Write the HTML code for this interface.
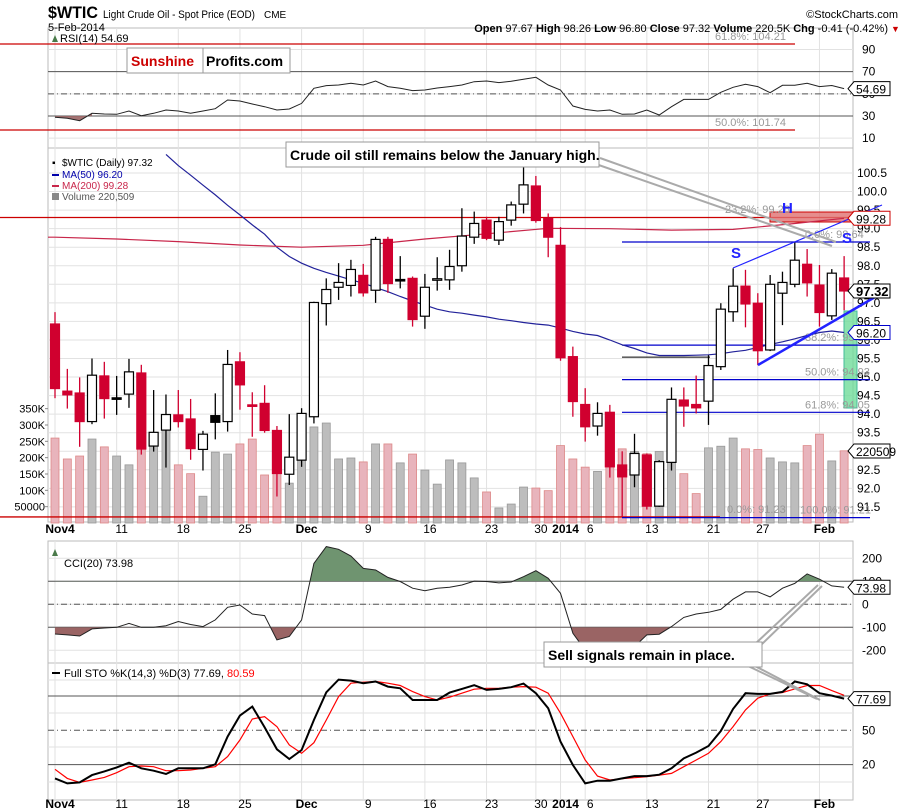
<!DOCTYPE html>
<html><head><meta charset="utf-8"><style>
body{margin:0;background:#fff;}
svg{display:block;font-family:"Liberation Sans",sans-serif;}
</style></head><body>
<svg id="c" width="900" height="811" viewBox="0 0 900 811" xmlns="http://www.w3.org/2000/svg">
<rect x="0" y="0" width="900" height="811" fill="#fff"/>
<g id="grid"></g><g id="layer"></g><g id="top"></g>
</svg>
<script>
// ---- data ----
const opens  = [96.43,94.62,94.57,93.80,95.03,94.44,94.54,95.11,93.14,93.57,93.98,93.87,93.05,93.96,93.80,95.41,94.25,94.29,93.56,92.38,92.76,93.93,96.98,97.42,97.47,97.74,97.34,98.71,97.63,97.66,96.64,97.65,97.62,98.00,98.77,99.23,98.69,99.23,99.66,100.15,99.28,98.55,95.55,94.26,93.68,94.05,92.63,92.36,92.90,91.52,92.70,94.38,94.26,94.35,95.28,96.76,97.45,96.99,95.73,97.26,97.50,98.04,97.48,96.65,97.67];
const highs  = [96.75,95.22,94.99,95.50,95.41,95.03,95.49,95.33,94.65,94.53,94.65,94.41,93.55,94.56,95.73,95.67,94.59,94.78,93.68,94.00,94.16,97.03,97.66,98.07,98.16,98.05,98.78,98.78,98.26,97.71,97.78,98.23,98.43,99.55,99.46,99.32,99.32,99.73,100.67,100.42,99.41,99.04,95.82,94.70,94.32,94.25,93.00,93.47,92.94,92.76,94.72,94.72,95.04,95.59,96.99,97.93,97.89,97.26,97.75,97.84,98.65,98.45,98.02,97.91,98.26];
const lows   = [94.43,94.15,93.12,93.73,93.88,93.98,94.17,92.91,92.99,92.56,93.64,92.77,92.48,93.32,93.53,94.12,93.39,93.50,91.78,92.09,92.58,93.75,96.39,97.08,97.17,97.17,97.00,97.27,97.39,96.36,96.30,97.33,97.35,97.84,98.59,98.69,98.56,99.08,99.41,99.16,98.23,95.44,93.93,93.26,93.42,92.29,91.23,92.03,91.43,91.50,92.48,93.66,94.02,93.71,95.19,96.49,96.34,95.32,95.70,96.40,97.42,97.17,96.36,96.54,96.80];
const closes = [94.69,94.52,93.80,95.05,94.42,94.42,95.14,93.06,93.51,93.99,93.80,93.07,93.46,93.78,95.34,94.79,94.21,93.56,92.40,92.84,94.02,97.01,97.36,97.55,97.90,97.27,98.71,97.52,97.62,96.55,97.42,97.65,97.98,98.80,99.14,98.74,99.19,99.64,100.18,99.22,98.77,95.52,94.34,93.66,94.02,92.58,92.31,92.94,91.52,92.72,94.40,94.22,94.17,95.31,96.83,97.45,96.97,95.71,97.50,97.55,98.15,97.54,96.74,97.80,97.32];
const volumesK = [260,196,205,257,233,205,178,228,263,291,178,151,82,217,211,242,257,147,153,122,214,294,306,196,199,187,242,242,184,211,162,119,193,184,138,95,46,58,110,107,99,237,196,171,158,227,227,219,212,219,237,151,90,230,235,260,227,225,199,187,184,237,272,190,221];
const ma50Start = 9;
const ma50 = [101.0,100.70,100.44,100.17,99.91,99.63,99.37,99.10,98.85,98.50,98.25,98.07,97.93,97.82,97.72,97.62,97.53,97.41,97.30,97.17,97.05,96.94,96.83,96.76,96.72,96.67,96.62,96.56,96.52,96.47,96.43,96.40,96.32,96.23,96.16,96.12,96.00,95.87,95.77,95.65,95.58,95.58,95.58,95.59,95.60,95.63,95.68,95.72,95.80,95.88,95.95,96.03,96.12,96.20,96.24,96.20];
const ma200Idx = [0,5,10,15,20,25,30,35,40,45,50,55,60,64];
const ma200 = [98.77,98.72,98.65,98.56,98.50,98.55,98.72,98.86,99.01,99.00,98.96,98.98,99.14,99.28];
const rsi = [28.8,27.9,25.8,32.4,31.8,31.5,34.5,30.3,32.4,35.4,34.5,32.4,34.5,36.6,44.4,43.5,40.8,38.4,35.4,36.3,41.4,55,57.4,58,59.5,58,61.6,56.5,55,52.9,53.5,55.3,56.5,58,61,61.6,60.1,61.3,63.1,64.9,58,53.5,39,36,34.5,35.4,31.5,31.8,35.4,30.9,38.4,45,45,45,51.4,55.9,58.6,56.5,51,57.7,57.7,59.5,56.5,57.5,54.69];
const cci = [-129,-133,-138,-107,-103,-100,-83,-100,-100,-93,-75,-88,-97,-68,-13,-3,-42,-49,-155,-140,-68,178,251,239,210,156,149,117,99,70,59,70,74,84,101,99,93,97,120,146,113,48,-126,-199,-242,-256,-271,-184,-133,-130,-97,-57,-42,-35,-22,22,54,54,32,70,91,132,109,80,73.98];
const stoK = [8,3.6,4.5,10.9,14.1,17.6,21.7,16.8,14.7,11.8,16.8,16.8,16.8,20.3,44.5,62.8,70.7,52.6,33.4,24.9,32.8,59,83.2,94.3,93.4,91.1,92.6,88.2,86.7,76.5,76.5,76.5,82.9,86.2,89.4,85.3,86.2,87.6,90.8,82.4,69.2,40.1,19.7,3.6,6,6,8,10,10,11.2,16.8,25.5,30.5,36.3,49.4,68.7,82.4,81.8,81.8,83.5,92.6,90.2,82.4,80.3,77.69];
const stoD = [15.9,8,4.5,6.6,8.9,13,18.2,18.8,18.2,14.7,14.7,15.3,16.8,18.2,27,41.5,59.9,62,53.2,37.2,29.9,39.2,59,79.4,91.1,92,92.6,91.1,89.1,83.8,79.4,76.5,78.9,82.4,85.9,86.7,86.7,87.6,88.2,87.6,82.4,64.9,44.5,24.1,10,6.6,7.7,8.6,9.5,10.9,12.4,18.2,24.1,29.9,40.1,53.2,67.8,78,81.8,83,86.2,89.1,89.1,84.7,80.59];
const dateLabels = ["Nov4","11","18","25","Dec","9","16","23","30","2014","6","13","21","27","Feb"];
const dateIdx = [0,5,10,15,20,25,30,35,39,41,43,48,53,57,62];
const priceTicks = [100.5,100,99.5,99,98.5,98,97.5,97,96.5,96,95.5,95,94.5,94,93.5,93,92.5,92,91.5];
const volTicks = [350,300,250,200,150,100,50];
const volTickLabels = ["350K","300K","250K","200K","150K","100K","50000"];
const rsiTicks = [90,70,50,30,10];
const cciTicks = [200,100,0,-100,-200];
const stoTicks = [80,50,20];
const fibLevels = [98.64,95.86,94.93,94.05,91.21];
const fibLabels = ["0.0%: 98.64","38.2%: 95.86","50.0%: 94.93","61.8%: 94.05","100.0%: 91.21"];

// ---- axes ----
const L=48,R=853;
const xi=i=>55+i*12.33;
const py=p=>173+(100.5-p)*37.1;
const vy=v=>523-v*0.3267;
const ry=v=>116-(v-30)*1.108;
const cy=v=>604.3-v*0.23;
const sy=v=>730.3-(v-50)*1.145;

const NS="http://www.w3.org/2000/svg";
const G=document.getElementById('grid'),Ly=document.getElementById('layer'),T=document.getElementById('top');
function mk(tag,attrs,parent){const e=document.createElementNS(NS,tag);for(const k in attrs)e.setAttribute(k,attrs[k]);(parent||Ly).appendChild(e);return e;}
function txt(s,x,y,attrs,parent){const e=mk('text',Object.assign({x:x,y:y,'font-size':11,fill:'#000'},attrs||{}),parent);e.textContent=s;return e;}

const panels=[[28,148,'rsi-panel'],[148,522,'price-panel'],[541,663,'cci-panel'],[663,800,'sto-panel']];
panels.forEach(p=>{const r=mk('rect',{x:L,y:p[0],width:R-L,height:p[1]-p[0],fill:'none',stroke:'#bbb'},G);

});

dateIdx.forEach((d,k)=>{
 [[28,522],[541,800]].forEach(r=>{mk('line',{x1:xi(d),x2:xi(d),y1:r[0],y2:r[1],stroke:'#e2e2e2'},G);});
 [533,808].forEach(y=>{const t=txt(dateLabels[k],xi(d)+5,y,{'text-anchor':'middle','font-size':12,'font-weight':/\D/.test(dateLabels[k])||dateLabels[k]=='2014'?'bold':'normal'},G);
 
 });
});
priceTicks.forEach(p=>{mk('line',{x1:L,x2:R,y1:py(p),y2:py(p),stroke:'#e2e2e2'},G);
 const t=txt(p.toFixed(1),857,py(p)+4,{'font-size':12},G);
 
 });
volTicks.forEach((v,k)=>{const t=txt(volTickLabels[k],45,vy(v)+4,{'text-anchor':'end','font-size':11},G);
 
 
 mk('line',{x1:L-3,x2:L,y1:vy(v),y2:vy(v),stroke:'#888'},G);});
rsiTicks.forEach(v=>{mk('line',{x1:L,x2:R,y1:ry(v),y2:ry(v),stroke:'#e2e2e2'},G);
 const t=txt(String(v),862,ry(v)+4,{'font-size':12},G);
 
 });
mk('line',{x1:L,x2:R,y1:ry(70),y2:ry(70),stroke:'#555'},G);
mk('line',{x1:L,x2:R,y1:ry(30),y2:ry(30),stroke:'#555'},G);
mk('line',{x1:L,x2:R,y1:ry(50),y2:ry(50),stroke:'#555','stroke-dasharray':'6,3,1,3'},G);
cciTicks.forEach(v=>{mk('line',{x1:L,x2:R,y1:cy(v),y2:cy(v),stroke:'#e2e2e2'},G);
 const t=txt(String(v),862,cy(v)+4,{'font-size':12},G);
 
 });
mk('line',{x1:L,x2:R,y1:cy(100),y2:cy(100),stroke:'#555'},G);
mk('line',{x1:L,x2:R,y1:cy(-100),y2:cy(-100),stroke:'#555'},G);
mk('line',{x1:L,x2:R,y1:cy(0),y2:cy(0),stroke:'#555','stroke-dasharray':'6,3,1,3'},G);
stoTicks.forEach(v=>{const t=txt(String(v),862,sy(v)+4,{'font-size':12},G);
 
 });
[680,713,747,782].forEach(y=>mk('line',{x1:L,x2:R,y1:y,y2:y,stroke:'#e2e2e2'},G));
mk('line',{x1:L,x2:R,y1:sy(80),y2:sy(80),stroke:'#555'},G);
mk('line',{x1:L,x2:R,y1:sy(20),y2:sy(20),stroke:'#555'},G);
mk('line',{x1:L,x2:R,y1:sy(50),y2:sy(50),stroke:'#555','stroke-dasharray':'6,3,1,3'},G);

volumesK.forEach((v,i)=>{const up=i==0?false:closes[i]>=closes[i-1];
 const b=mk('rect',{x:xi(i)-4,y:vy(v),width:8,height:523-vy(v),fill:up?'#bdbdbd':'#e8b4bc',stroke:up?'#999':'#d88',"stroke-width":0.8});
 
 });

[[44,795],[130,795]].forEach(a=>mk('line',{x1:0,x2:a[1],y1:a[0],y2:a[0],stroke:'#c00','stroke-width':1.3}));
mk('line',{x1:0,x2:R,y1:py(99.30),y2:py(99.30),stroke:'#c00','stroke-width':1.3});
mk('line',{x1:0,x2:720,y1:py(91.23),y2:py(91.23),stroke:'#c00','stroke-width':1.3});
txt('61.8%: 104.21',715,40,{fill:'#999','font-size':11});
txt('50.0%: 101.74',715,126,{fill:'#999','font-size':11});
mk('rect',{x:770,y:212,width:83,height:10,fill:'#e07070','fill-opacity':0.8,stroke:'#c00'});
mk('rect',{x:844,y:311,width:13,height:97,fill:'#6fdc9a','fill-opacity':0.8,stroke:'#4b9'});

fibLevels.forEach((f,k)=>{mk('line',{x1:622,x2:870,y1:py(f),y2:py(f),stroke:'#00c','stroke-width':1.2});
 txt(fibLabels[k],k==4?800:805,py(f)-4,{fill:'#999','font-size':11});});
txt('23.2%: 99.26',725,213,{fill:'#999','font-size':11});
txt('0.0%: 91.23',727,513,{fill:'#999','font-size':11});
mk('line',{x1:622,x2:710,y1:py(95.86)+12,y2:py(95.86)+12,stroke:'#000'});

let d50='';ma50.forEach((v,k)=>{d50+=(k?'L':'M')+xi(ma50Start+k).toFixed(1)+','+Math.max(py(v),150).toFixed(1);});
const m50=mk('path',{d:d50,fill:'none',stroke:'#22229a','stroke-width':1.2});


let d200='M'+L+','+py(ma200[0]).toFixed(1);ma200.forEach((v,k)=>{d200+='L'+xi(ma200Idx[k]).toFixed(1)+','+py(v).toFixed(1);});
const m200=mk('path',{d:d200,fill:'none',stroke:'#c8264a','stroke-width':1.2});



opens.forEach((o,i)=>{const c=closes[i],x=xi(i);const up=c>=o;const red=i>0?c<closes[i-1]:c<o;
 const col=red?'#d0002f':'#000';const fill=up?'#fff':(red?'#d0002f':'#000');
 mk('line',{x1:x,x2:x,y1:py(highs[i]),y2:py(lows[i]),stroke:col,'stroke-width':1.3});
 const top=py(Math.max(o,c)),h=Math.max(py(Math.min(o,c))-top,1.5);
 const b=mk('rect',{x:x-4.5,y:top,width:9,height:h,fill:fill,stroke:up?'#000':col,'stroke-width':1.2});
 
 });

mk('line',{x1:733,y1:268,x2:882,y2:205,stroke:'#22f','stroke-width':1.2});
mk('line',{x1:758,y1:365,x2:882,y2:293,stroke:'#22f','stroke-width':2.5});
txt('S',731,258,{fill:'#22f','font-size':15,'font-weight':'bold'});
txt('H',782,213,{fill:'#22f','font-size':15,'font-weight':'bold'});
txt('S',842,243,{fill:'#22f','font-size':15,'font-weight':'bold'});

function linePath(arr,f){return arr.map((v,i)=>(i?'L':'M')+xi(i).toFixed(1)+','+f(v).toFixed(1)).join('');}
mk('path',{d:'M'+xi(0)+','+ry(30)+linePath(rsi.slice(0,4),ry).replace('M','L')+'L'+xi(3)+','+ry(30)+'Z',fill:'#9a6464',opacity:0.9});
const rl=mk('path',{d:linePath(rsi,ry),fill:'none',stroke:'#222','stroke-width':1});



const cp=mk('clipPath',{id:'cciHi'});mk('rect',{x:L,y:541,width:R-L,height:cy(100)-541},cp);
const cp2=mk('clipPath',{id:'cciLo'});mk('rect',{x:L,y:cy(-100),width:R-L,height:663-cy(-100)},cp2);
const cciArea=linePath(cci,cy);
mk('path',{d:cciArea+'L'+xi(64)+','+cy(100)+'L'+xi(0)+','+cy(100)+'Z',fill:'#6f9470','clip-path':'url(#cciHi)'});
mk('path',{d:cciArea+'L'+xi(64)+','+cy(-100)+'L'+xi(0)+','+cy(-100)+'Z',fill:'#9a6464','clip-path':'url(#cciLo)'});
const cl=mk('path',{d:cciArea,fill:'none',stroke:'#222','stroke-width':1});



const dl=mk('path',{d:linePath(stoD,sy),fill:'none',stroke:'#f00','stroke-width':1.2});


const kl=mk('path',{d:linePath(stoK,sy),fill:'none',stroke:'#000','stroke-width':2});



function tag(v,y,col,bold){const g=mk('g',{},T);mk('path',{d:`M848,${y} l6,-7 h36 v14 h-36 z`,fill:'#fff',stroke:col},g);
 txt(v,856,y+5,{'font-size':bold?13:12,'font-weight':bold?'bold':'normal'},g);return g;}
tag('97.32',py(97.32),'#000',true);
tag('96.20',py(96.20),'#00c');
tag('99.28',py(99.28),'#c00');
tag('220509',vy(220.5),'#000');
tag('54.69',ry(54.69),'#000');
tag('73.98',cy(73.98),'#000');
tag('77.69',sy(77.69),'#000');

mk('path',{d:'M590,162 L832,246 M600,158 L836,242',stroke:'#aaa','stroke-width':2,fill:'none'},T);
mk('rect',{x:286,y:142,width:313,height:25,fill:'#fff',stroke:'#999'},T);
txt('Crude oil still remains below the January high.',290,160,{'font-size':14,'font-weight':'bold'},T);
mk('path',{d:'M755,644 L818,585 M762,644 L822,586 M755,666 L820,700 M748,666 L817,699',stroke:'#aaa','stroke-width':2,fill:'none'},T);
mk('rect',{x:544,y:642,width:218,height:25,fill:'#fff',stroke:'#999'},T);
txt('Sell signals remain in place.',548,660,{'font-size':14,'font-weight':'bold'},T);
mk('rect',{x:127,y:48,width:163,height:25,fill:'#fff',stroke:'#999'},T);
mk('line',{x1:203,x2:203,y1:48,y2:73,stroke:'#999'},T);
txt('Sunshine',131,66,{'font-size':14,'font-weight':'bold',fill:'#c00'},T);
txt('Profits.com',206,66,{'font-size':14,'font-weight':'bold'},T);

txt('$WTIC',48,18,{'font-size':17,'font-weight':'bold',textLength:50,lengthAdjust:'spacingAndGlyphs'},T);
txt('Light Crude Oil - Spot Price (EOD)',103,18,{'font-size':11,textLength:152,lengthAdjust:'spacingAndGlyphs'},T);
txt('CME',264,18,{'font-size':10},T);
txt('5-Feb-2014',48,31,{'font-size':11},T);
txt('©StockCharts.com',898,18,{'font-size':11,'text-anchor':'end'},T);
const hd=txt('',888,32,{'font-size':11,'text-anchor':'end'},T);
hd.innerHTML='<tspan font-weight="bold">Open</tspan> 97.67 <tspan font-weight="bold">High</tspan> 98.26 <tspan font-weight="bold">Low</tspan> 96.80 <tspan font-weight="bold">Close</tspan> 97.32 <tspan font-weight="bold">Volume</tspan> 220.5K <tspan font-weight="bold">Chg</tspan> -0.41 (-0.42%)';
txt('▼',891,32,{'font-size':9,fill:'#c00'},T);
txt('RSI(14) 54.69',60,42,{'font-size':11},T);
mk('path',{d:'M52,42 l3,-7 l3,7 z',fill:'#4a7a4a'},T);
txt('$WTIC (Daily) 97.32',62,166,{'font-size':10},T);
txt('▪',52,166,{'font-size':10},T);
mk('line',{x1:52,x2:59,y1:175,y2:175,stroke:'#00a','stroke-width':2},T);
txt('MA(50) 96.20',62,178,{'font-size':10,fill:'#00a'},T);
mk('line',{x1:52,x2:59,y1:186,y2:186,stroke:'#c8264a','stroke-width':2},T);
txt('MA(200) 99.28',62,189,{'font-size':10,fill:'#c8264a'},T);
txt('Volume 220,509',62,200,{'font-size':10,fill:'#555'},T);
mk('rect',{x:52,y:193,width:7,height:7,fill:'#888'},T);
mk('path',{d:'M52,556 l3,-7 l3,7 z',fill:'#4a7a4a'},T);
txt('CCI(20) 73.98',64,567,{'font-size':11},T);
mk('line',{x1:52,x2:60,y1:673,y2:673,stroke:'#000','stroke-width':2},T);
const st=txt('',64,677,{'font-size':11},T);
st.innerHTML='Full STO %K(14,3) %D(3) 77.69, <tspan fill="#f00">80.59</tspan>';
</script>
</body></html>
